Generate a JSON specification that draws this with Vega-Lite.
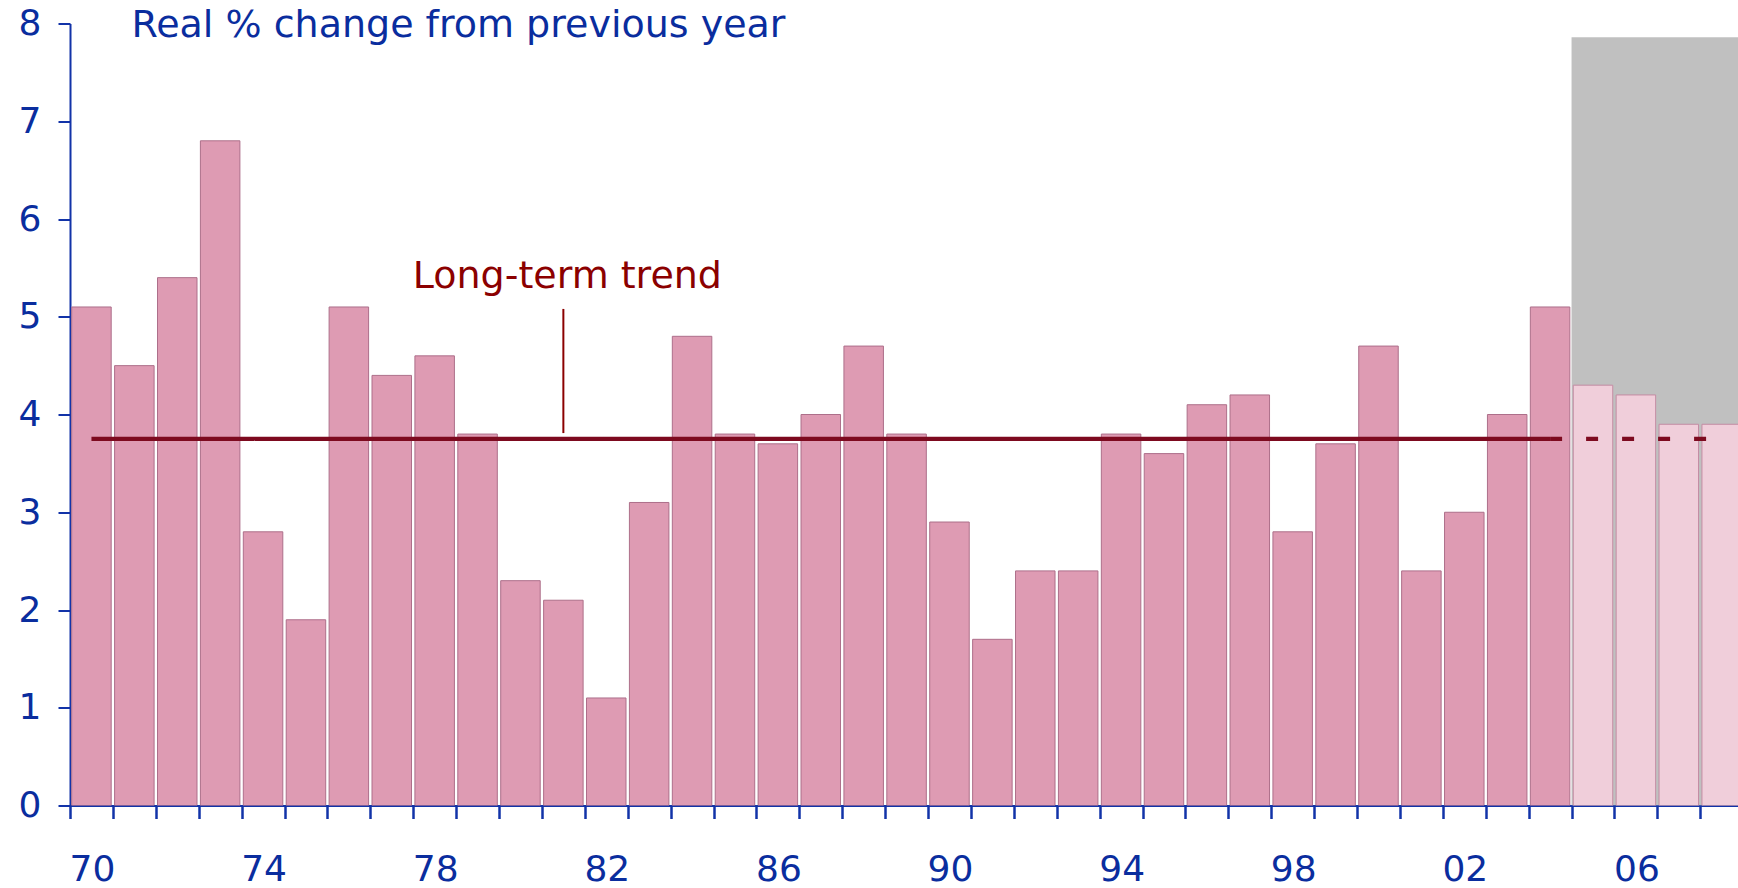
{
  "$schema": "https://vega.github.io/schema/vega-lite/v6.json",
  "width": 1668,
  "height": 782,
  "autosize": {"type": "none"},
  "padding": {"left": 70, "top": 23.5, "right": 0, "bottom": 82.5},
  "background": "white",
  "config": {"view": {"stroke": null}, "font": "DejaVu Sans"},
  "datasets": {
    "growth": [
      {"year": 1970, "value": 5.1, "kind": "actual"},
      {"year": 1971, "value": 4.5, "kind": "actual"},
      {"year": 1972, "value": 5.4, "kind": "actual"},
      {"year": 1973, "value": 6.8, "kind": "actual"},
      {"year": 1974, "value": 2.8, "kind": "actual"},
      {"year": 1975, "value": 1.9, "kind": "actual"},
      {"year": 1976, "value": 5.1, "kind": "actual"},
      {"year": 1977, "value": 4.4, "kind": "actual"},
      {"year": 1978, "value": 4.6, "kind": "actual"},
      {"year": 1979, "value": 3.8, "kind": "actual"},
      {"year": 1980, "value": 2.3, "kind": "actual"},
      {"year": 1981, "value": 2.1, "kind": "actual"},
      {"year": 1982, "value": 1.1, "kind": "actual"},
      {"year": 1983, "value": 3.1, "kind": "actual"},
      {"year": 1984, "value": 4.8, "kind": "actual"},
      {"year": 1985, "value": 3.8, "kind": "actual"},
      {"year": 1986, "value": 3.7, "kind": "actual"},
      {"year": 1987, "value": 4.0, "kind": "actual"},
      {"year": 1988, "value": 4.7, "kind": "actual"},
      {"year": 1989, "value": 3.8, "kind": "actual"},
      {"year": 1990, "value": 2.9, "kind": "actual"},
      {"year": 1991, "value": 1.7, "kind": "actual"},
      {"year": 1992, "value": 2.4, "kind": "actual"},
      {"year": 1993, "value": 2.4, "kind": "actual"},
      {"year": 1994, "value": 3.8, "kind": "actual"},
      {"year": 1995, "value": 3.6, "kind": "actual"},
      {"year": 1996, "value": 4.1, "kind": "actual"},
      {"year": 1997, "value": 4.2, "kind": "actual"},
      {"year": 1998, "value": 2.8, "kind": "actual"},
      {"year": 1999, "value": 3.7, "kind": "actual"},
      {"year": 2000, "value": 4.7, "kind": "actual"},
      {"year": 2001, "value": 2.4, "kind": "actual"},
      {"year": 2002, "value": 3.0, "kind": "actual"},
      {"year": 2003, "value": 4.0, "kind": "actual"},
      {"year": 2004, "value": 5.1, "kind": "actual"},
      {"year": 2005, "value": 4.3, "kind": "forecast"},
      {"year": 2006, "value": 4.2, "kind": "forecast"},
      {"year": 2007, "value": 3.9, "kind": "forecast"},
      {"year": 2008, "value": 3.9, "kind": "forecast"}
    ],
    "trend": [
      {"year": 1970, "value": 3.75, "segment": "historical"},
      {"year": 2004, "value": 3.75, "segment": "historical"},
      {"year": 2004, "value": 3.75, "segment": "projected"},
      {"year": 2008, "value": 3.75, "segment": "projected"}
    ],
    "forecastPeriod": [
      {"start": 2004.5, "end": 2008.5, "top": 7.86}
    ],
    "annotation": [
      {"year": 1981, "low": 3.81, "high": 5.08, "labelValue": 5.29, "label": "Long-term trend"}
    ]
  },
  "layer": [
    {
      "data": {"name": "forecastPeriod"},
      "mark": {"type": "rect", "color": "#C0C0C0", "clip": true},
      "encoding": {
        "x": {"field": "start", "type": "quantitative", "title": null},
        "x2": {"field": "end"},
        "y": {"field": "top", "type": "quantitative"},
        "y2": {"datum": 0}
      }
    },
    {
      "data": {"name": "growth"},
      "mark": {"type": "bar", "width": 39.5, "strokeWidth": 1, "clip": true},
      "encoding": {
        "x": {
          "field": "year",
          "type": "quantitative",
          "title": null,
          "scale": {"domain": [1969.5, 2008.38], "nice": false, "zero": false, "padding": 0},
          "axis": {
            "title": null,
            "grid": false,
            "values": [1969.5, 1970.5, 1971.5, 1972.5, 1973.5, 1974.5, 1975.5, 1976.5, 1977.5, 1978.5, 1979.5, 1980.5, 1981.5, 1982.5, 1983.5, 1984.5, 1985.5, 1986.5, 1987.5, 1988.5, 1989.5, 1990.5, 1991.5, 1992.5, 1993.5, 1994.5, 1995.5, 1996.5, 1997.5, 1998.5, 1999.5, 2000.5, 2001.5, 2002.5, 2003.5, 2004.5, 2005.5, 2006.5, 2007.5],
            "labelExpr": "(datum.value - 1969.5) % 4 == 0 ? substring(toString(datum.value + 0.5), 2, 4) : ''",
            "labelOffset": 22,
            "labelPadding": 34,
            "labelFlush": false,
            "labelOverlap": false,
            "labelBound": false,
            "labelFont": "DejaVu Sans",
            "labelFontSize": 36,
            "labelColor": "#0A2D9E",
            "tickSize": 13,
            "tickWidth": 2.5,
            "tickColor": "#1233A8",
            "domainColor": "#1233A8",
            "domainWidth": 2
          }
        },
        "y": {
          "field": "value",
          "type": "quantitative",
          "title": "Real % change from previous year",
          "scale": {"domain": [0, 8], "nice": false, "padding": 0},
          "axis": {
            "title": "Real % change from previous year",
            "titleAngle": 0,
            "titleAlign": "left",
            "titleBaseline": "alphabetic",
            "titleX": 61,
            "titleY": 12.5,
            "titleFont": "DejaVu Sans",
            "titleFontSize": 38,
            "titleFontWeight": "normal",
            "titleColor": "#0A2D9E",
            "titleLimit": 1000,
            "grid": false,
            "values": [0, 1, 2, 3, 4, 5, 6, 7, 8],
            "format": "d",
            "labelFlush": false,
            "labelOverlap": false,
            "labelFont": "DejaVu Sans",
            "labelFontSize": 36,
            "labelColor": "#0A2D9E",
            "labelPadding": 17,
            "tickSize": 12,
            "tickWidth": 2,
            "tickColor": "#1233A8",
            "domainColor": "#1233A8",
            "domainWidth": 2
          }
        },
        "color": {
          "field": "kind",
          "type": "nominal",
          "scale": {"domain": ["actual", "forecast"], "range": ["#DE9BB3", "#F0CEDA"]},
          "legend": null
        },
        "stroke": {
          "field": "kind",
          "type": "nominal",
          "scale": {"domain": ["actual", "forecast"], "range": ["#AD6F8A", "#C48CA3"]},
          "legend": null
        }
      }
    },
    {
      "data": {"name": "annotation"},
      "mark": {"type": "rule", "color": "#8B0000", "strokeWidth": 2},
      "encoding": {
        "x": {"field": "year", "type": "quantitative", "title": null},
        "y": {"field": "low", "type": "quantitative"},
        "y2": {"field": "high"}
      }
    },
    {
      "data": {"name": "trend"},
      "mark": {"type": "line", "color": "#7D0A1F", "strokeWidth": 4.3, "clip": true},
      "encoding": {
        "x": {"field": "year", "type": "quantitative", "title": null},
        "y": {"field": "value", "type": "quantitative"},
        "strokeDash": {
          "field": "segment",
          "type": "nominal",
          "scale": {"domain": ["historical", "projected"], "range": [[1, 0], [12, 24]]},
          "legend": null
        }
      }
    },
    {
      "data": {"name": "annotation"},
      "mark": {"type": "text", "color": "#8B0000", "font": "DejaVu Sans", "fontSize": 38, "align": "center", "baseline": "alphabetic", "dx": 4},
      "encoding": {
        "x": {"field": "year", "type": "quantitative", "title": null},
        "y": {"field": "labelValue", "type": "quantitative"},
        "text": {"field": "label"}
      }
    }
  ]
}
